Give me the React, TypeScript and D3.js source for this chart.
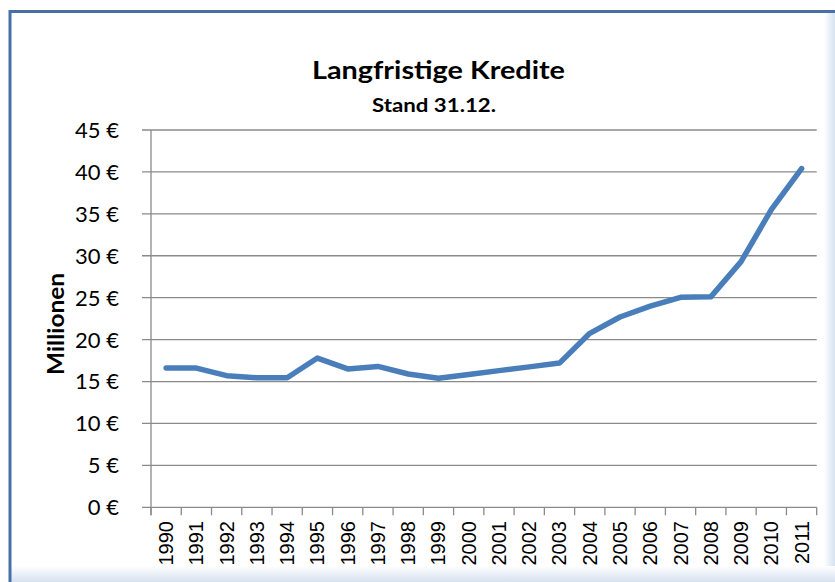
import * as d3 from 'd3';
import React from 'react';

const years = ['1990', '1991', '1992', '1993', '1994', '1995', '1996', '1997', '1998', '1999', '2000',
  '2001', '2002', '2003', '2004', '2005', '2006', '2007', '2008', '2009', '2010', '2011'];
const kredite = [16.6, 16.6, 15.7, 15.45, 15.45, 17.8, 16.5, 16.8, 15.9, 15.4, 15.85,
  16.3, 16.75, 17.2, 20.75, 22.7, 24.0, 25.05, 25.1, 29.3, 35.5, 40.4];
const yTicks = [0, 5, 10, 15, 20, 25, 30, 35, 40, 45];

const W = 835;
const H = 582;
const plot = { left: 151, right: 816.7, top: 130, bottom: 507.3 };
const calibri = 'Lato, "Open Sans", sans-serif';

export default function App() {
  const x = d3.scaleBand().domain(years).range([plot.left, plot.right]);
  const y = d3.scaleLinear().domain([0, 45]).range([plot.bottom, plot.top]);

  // line through category centers
  const line = d3.line<number>()
    .x((d, i) => (x(years[i]) as number) + x.bandwidth() / 2)
    .y(d => y(d));

  const tickXs = years.map(yr => x(yr) as number).concat([plot.right]);

  return (
    <svg width={W} height={H} style={{ position: 'absolute', left: 0, top: 0 }}>
      <defs>
        <linearGradient id="fadeR" x1="0" x2="1" y1="0" y2="0">
          <stop offset="0" stopColor="#ffffff" />
          <stop offset="1" stopColor="#d6e1f0" />
        </linearGradient>
        <linearGradient id="fadeB" x1="0" x2="0" y1="0" y2="1">
          <stop offset="0" stopColor="#ffffff" />
          <stop offset="1" stopColor="#d6e1f0" />
        </linearGradient>
      </defs>
      <rect x={0} y={0} width={W} height={H} fill="#ffffff" />
      <rect x={824} y={12} width={11} height={H} fill="url(#fadeR)" />
      <rect x={10} y={566} width={W} height={16} fill="url(#fadeB)" />
      <rect x={10} y={11.5} width={900} height={700} fill="none" stroke="#4670a6" strokeWidth={3} />

      <text x={438.5} y={79} textAnchor="middle" fontFamily={calibri} fontWeight="bold" fontSize={25}
        textLength={253} lengthAdjust="spacingAndGlyphs">
        Langfristige Kredite
      </text>
      <text x={434} y={111.5} textAnchor="middle" fontFamily={calibri} fontWeight="bold" fontSize={19}
        textLength={124} lengthAdjust="spacingAndGlyphs">
        Stand 31.12.
      </text>

      {/* gridlines and y ticks */}
      {yTicks.map(t => (
        <g key={t}>
          <line x1={142} x2={plot.right} y1={y(t)} y2={y(t)} stroke="#8a8a8a" strokeWidth={1.3} />
          <text x={119} y={y(t)} dy="0.36em" textAnchor="end" fontFamily={calibri} fontSize={22}>
            {t} €
          </text>
        </g>
      ))}
      <line x1={plot.left} x2={plot.left} y1={plot.top} y2={plot.bottom + 8} stroke="#8a8a8a" strokeWidth={1.3} />

      {/* x ticks */}
      {tickXs.map((tx, i) => (
        <line key={i} x1={tx} x2={tx} y1={plot.bottom} y2={plot.bottom + 8} stroke="#8a8a8a" strokeWidth={1.3} />
      ))}
      {years.map(yr => {
        const cx = (x(yr) as number) + x.bandwidth() / 2;
        return (
          <text key={yr} transform={`translate(${cx + 7},521) rotate(-90)`} textAnchor="end"
            fontFamily='"Liberation Sans", Arial, sans-serif' fontSize={20}>
            {yr}
          </text>
        );
      })}

      <text transform="translate(64,324) rotate(-90)" textAnchor="middle" fontFamily={calibri}
        fontWeight="bold" fontSize={22} textLength={102} lengthAdjust="spacingAndGlyphs">
        Millionen
      </text>

      <path d={line(kredite) ?? ''} fill="none" stroke="#4a7ebb" strokeWidth={5.5}
        strokeLinejoin="round" strokeLinecap="round" />
    </svg>
  );
}
